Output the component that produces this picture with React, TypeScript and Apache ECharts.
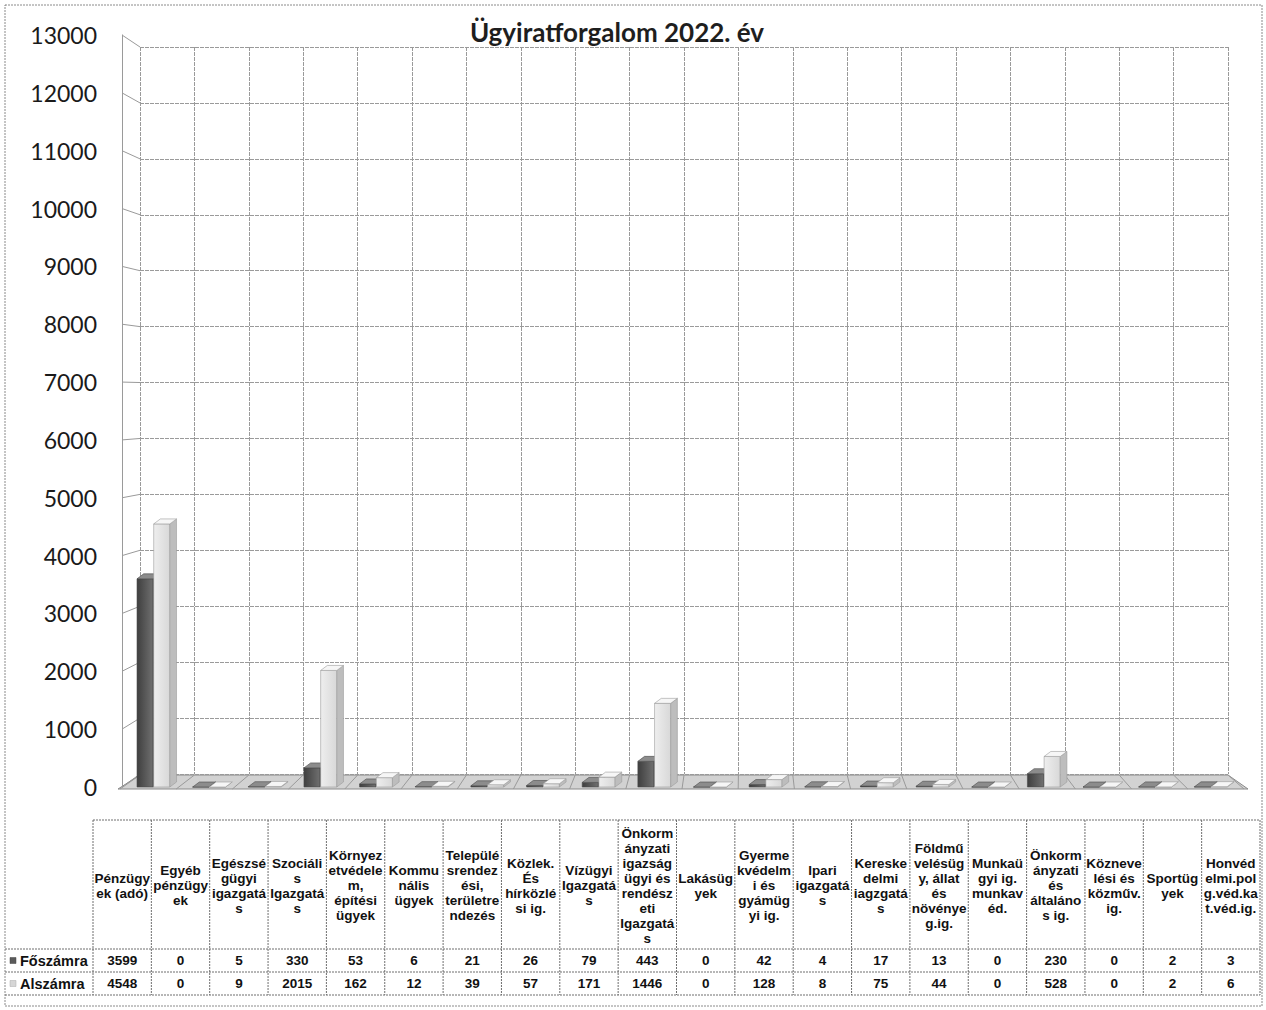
import React, { useEffect, useRef } from "react";
import * as echarts from "echarts";

// ---------- data ----------
const chartTitle = "Ügyiratforgalom 2022. év";
const categories = [
  "Pénzügy\nek (adó)",
  "Egyéb\npénzügy\nek",
  "Egészsé\ngügyi\nigazgatá\ns",
  "Szociáli\ns\nIgazgatá\ns",
  "Környez\netvédele\nm,\népítési\nügyek",
  "Kommu\nnális\nügyek",
  "Települé\nsrendez\nési,\nterületre\nndezés",
  "Közlek.\nÉs\nhírközlé\nsi ig.",
  "Vízügyi\nIgazgatá\ns",
  "Önkorm\nányzati\nigazság\nügyi és\nrendész\neti\nIgazgatá\ns",
  "Lakásüg\nyek",
  "Gyerme\nkvédelm\ni és\ngyámüg\nyi ig.",
  "Ipari\nigazgatá\ns",
  "Kereske\ndelmi\niagzgatá\ns",
  "Földmű\nvelésüg\ny, állat\nés\nnövénye\ng.ig.",
  "Munkaü\ngyi ig.\nmunkav\néd.",
  "Önkorm\nányzati\nés\náltaláno\ns ig.",
  "Közneve\nlési és\nközműv.\nig.",
  "Sportüg\nyek",
  "Honvéd\nelmi.pol\ng.véd.ka\nt.véd.ig.",
];
const seriesNames = ["Főszámra", "Alszámra"];
const foszamra = [3599, 0, 5, 330, 53, 6, 21, 26, 79, 443, 0, 42, 4, 17, 13, 0, 230, 0, 2, 3];
const alszamra = [4548, 0, 9, 2015, 162, 12, 39, 57, 171, 1446, 0, 128, 8, 75, 44, 0, 528, 0, 2, 6];
const yMin = 0;
const yMax = 13000;
const yStep = 1000;

// ---------- layout ----------
const FRONT = { left: 127, top: 35, right: 1240, bottom: 787 };
const BACK = { left: 140, top: 47, right: 1228, bottom: 774 };
const TABLE = { left: 93, right: 1260, top: 820, headBottom: 949, row1: 972, row2: 995, outerLeft: 5 };

const GRID_COLOR = "#9a9a9a";
const TABLE_LINE = "#6f6f6f";
const TABLE_FONT = "'Liberation Sans', Arial, sans-serif";

const palettes = [
  { front: ["#3f3f3f", "#707070"], top: "#8c8c8c", side: "#353535", stroke: "#4a4a4a" },
  { front: ["#eeeeee", "#d8d8d8"], top: "#f6f6f6", side: "#bdbdbd", stroke: "#9c9c9c" },
];

function makeRenderItem(s: number) {
  return (params: any, api: any) => {
    const idx = api.value(0);
    const v = api.value(1);
    const top = api.coord([idx, v]);
    const base = api.coord([idx, 0]);
    const bw = api.size([1, 0])[0];
    const w = 0.29 * bw;
    const x0 = top[0] + (s === 0 ? -0.32 : -0.02) * bw;
    const dx = 0.12 * bw;
    const dy = -5;
    const yT = top[1];
    const yB = base[1];
    const p = palettes[s];
    return {
      type: "group",
      children: [
        {
          type: "rect",
          shape: { x: x0, y: yT, width: w, height: Math.max(0, yB - yT) },
          style: {
            fill: new echarts.graphic.LinearGradient(0, 0, 1, 0, [
              { offset: 0, color: p.front[0] },
              { offset: 1, color: p.front[1] },
            ]),
            stroke: p.stroke,
            lineWidth: 0.6,
          },
        },
        {
          type: "polygon",
          shape: { points: [[x0 + w, yT], [x0 + w + dx, yT + dy], [x0 + w + dx, yB + dy], [x0 + w, yB]] },
          style: { fill: p.side, stroke: p.stroke, lineWidth: 0.6 },
        },
        {
          type: "polygon",
          shape: { points: [[x0, yT], [x0 + dx, yT + dy], [x0 + w + dx, yT + dy], [x0 + w, yT]] },
          style: { fill: p.top, stroke: p.stroke, lineWidth: 0.6 },
        },
      ],
    };
  };
}

function buildGraphic() {
  const els: any[] = [];
  const n = categories.length;
  // outer frame
  els.push({
    type: "rect",
    shape: { x: 5, y: 5, width: 1257, height: 1001 },
    style: { fill: "none", stroke: "#8a8a8a", lineWidth: 1, lineDash: [2, 1] },
    z: 0,
  });
  // title
  els.push({
    type: "text",
    x: 617,
    y: 32,
    style: {
      text: chartTitle,
      fontFamily: "Lato, 'Open Sans', sans-serif",
      fontWeight: "bold",
      fontSize: 26,
      fill: "#1e1e1e",
      align: "center",
      verticalAlign: "middle",
    },
  });
  // left wall connectors
  for (let v = yMin; v <= yMax; v += yStep) {
    const yF = FRONT.bottom - ((v - yMin) / (yMax - yMin)) * (FRONT.bottom - FRONT.top);
    const yBk = BACK.bottom - ((v - yMin) / (yMax - yMin)) * (BACK.bottom - BACK.top);
    els.push({
      type: "line",
      shape: { x1: 122, y1: yF, x2: BACK.left, y2: yBk },
      style: { stroke: GRID_COLOR, lineWidth: 1 },
      z: 0,
    });
  }
  // floor
  els.push({
    type: "polygon",
    shape: { points: [[118, 789], [BACK.left, BACK.bottom + 1], [BACK.right, BACK.bottom + 1], [1248, 789]] },
    style: { fill: "#d2d2d2", stroke: "#8a8a8a", lineWidth: 1 },
    z: 0,
  });
  const bwBack = (BACK.right - BACK.left) / n;
  const bwFront = (1244 - 120) / n;
  for (let k = 0; k <= n; k++) {
    els.push({
      type: "line",
      shape: { x1: BACK.left + k * bwBack, y1: BACK.bottom + 1, x2: 120 + k * bwFront, y2: 789 },
      style: { stroke: "#9a9a9a", lineWidth: 1 },
      z: 0,
    });
  }
  // table lines
  const colW = (TABLE.right - TABLE.left) / n;
  const hl = (x1: number, x2: number, y: number) =>
    els.push({
      type: "line",
      shape: { x1, y1: y, x2, y2: y },
      style: { stroke: TABLE_LINE, lineWidth: 1, lineDash: [2, 1] },
    });
  hl(TABLE.left, TABLE.right, TABLE.top);
  hl(TABLE.outerLeft, TABLE.right, TABLE.headBottom);
  hl(TABLE.outerLeft, TABLE.right, TABLE.row1);
  hl(TABLE.outerLeft, TABLE.right, TABLE.row2);
  for (let i = 0; i <= n; i++) {
    const x = TABLE.left + i * colW;
    els.push({
      type: "line",
      shape: { x1: x, y1: TABLE.top, x2: x, y2: TABLE.row2 },
      style: { stroke: TABLE_LINE, lineWidth: 1, lineDash: [2, 1] },
    });
  }
  // header texts
  categories.forEach((c, i) => {
    els.push({
      type: "text",
      x: TABLE.left + (i + 0.5) * colW,
      y: (TABLE.top + TABLE.headBottom) / 2 + 1,
      style: {
        text: c,
        fontFamily: TABLE_FONT,
        fontWeight: "bold",
        fontSize: 13.5,
        lineHeight: 15,
        fill: "#111",
        align: "center",
        verticalAlign: "middle",
      },
    });
  });
  // data rows
  const rows = [foszamra, alszamra];
  const rowY = [(TABLE.headBottom + TABLE.row1) / 2, (TABLE.row1 + TABLE.row2) / 2];
  rows.forEach((vals, r) => {
    els.push({
      type: "rect",
      shape: { x: 10, y: rowY[r] - 3, width: 6, height: 6 },
      style: { fill: r === 0 ? "#5a5a5a" : "#d6d6d6", stroke: r === 0 ? "#444" : "#aaa", lineWidth: 0.5 },
    });
    els.push({
      type: "text",
      x: 20,
      y: rowY[r],
      style: {
        text: seriesNames[r],
        fontFamily: TABLE_FONT,
        fontWeight: "bold",
        fontSize: 14.5,
        fill: "#111",
        align: "left",
        verticalAlign: "middle",
      },
    });
    vals.forEach((v, i) => {
      els.push({
        type: "text",
        x: TABLE.left + (i + 0.5) * colW,
        y: rowY[r],
        style: {
          text: String(v),
          fontFamily: TABLE_FONT,
          fontWeight: "bold",
          fontSize: 13.5,
          fill: "#111",
          align: "center",
          verticalAlign: "middle",
        },
      });
    });
  });
  return els;
}

export default function App() {
  const ref = useRef<HTMLDivElement>(null);
  useEffect(() => {
    if (!ref.current) return;
    const chart = echarts.init(ref.current, null, { renderer: "svg" });
    const n = categories.length;
    chart.setOption({
      animation: false,
      backgroundColor: "#ffffff",
      grid: [
        { left: FRONT.left, top: FRONT.top, width: FRONT.right - FRONT.left, height: FRONT.bottom - FRONT.top },
        { left: BACK.left, top: BACK.top, width: BACK.right - BACK.left, height: BACK.bottom - BACK.top },
      ],
      xAxis: [
        { gridIndex: 0, type: "category", data: categories, show: false },
        {
          gridIndex: 1,
          type: "value",
          min: 0,
          max: n,
          interval: 1,
          axisLine: { show: false },
          axisTick: { show: false },
          axisLabel: { show: false },
          splitLine: { show: true, lineStyle: { color: GRID_COLOR, width: 1, type: [4, 1] } },
        },
      ],
      yAxis: [
        {
          gridIndex: 0,
          type: "value",
          min: yMin,
          max: yMax,
          interval: yStep,
          offset: 5,
          axisLine: { show: true, lineStyle: { color: GRID_COLOR, width: 1 } },
          axisTick: { show: false },
          splitLine: { show: false },
          axisLabel: {
            fontFamily: "Lato, 'Open Sans', sans-serif",
            fontSize: 23,
            color: "#1a1a1a",
            margin: 25,
            formatter: (v: number) => String(v),
          },
        },
        {
          gridIndex: 1,
          type: "value",
          min: yMin,
          max: yMax,
          interval: yStep,
          axisLine: { show: false },
          axisTick: { show: false },
          axisLabel: { show: false },
          splitLine: { show: true, lineStyle: { color: GRID_COLOR, width: 1, type: [4, 1] } },
        },
      ],
      series: [foszamra, alszamra].map((vals, s) => ({
        type: "custom",
        name: seriesNames[s],
        xAxisIndex: 0,
        yAxisIndex: 0,
        z: 3 + s,
        encode: { x: 0, y: 1 },
        data: vals.map((v, i) => [i, v]),
        renderItem: makeRenderItem(s),
      })),
      graphic: buildGraphic(),
    });
    return () => chart.dispose();
  }, []);
  return (
    <div
      ref={ref}
      style={{ position: "fixed", left: 0, top: 0, width: 1266, height: 1010, background: "#fff" }}
    />
  );
}
